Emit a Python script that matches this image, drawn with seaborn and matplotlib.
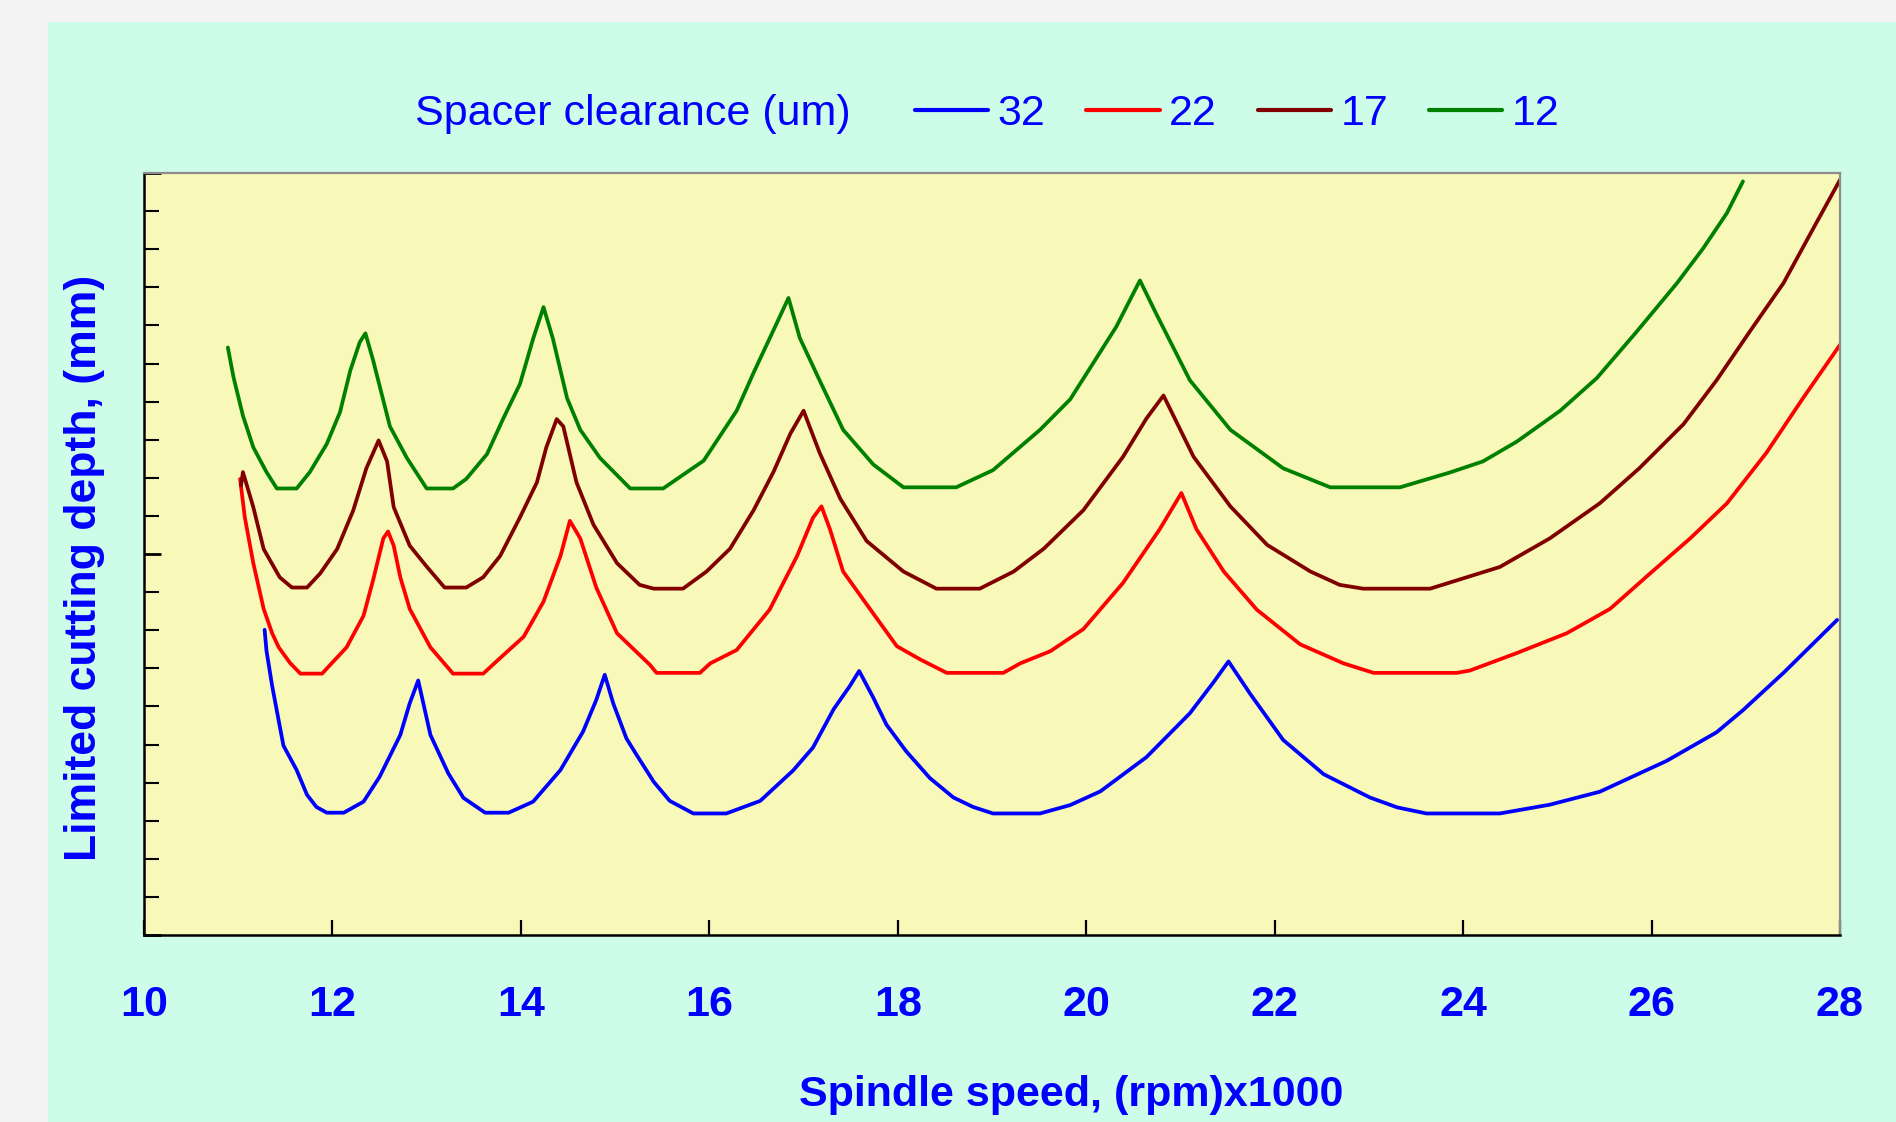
import numpy as np
import pandas as pd
import matplotlib
matplotlib.use('Agg')
import matplotlib.pyplot as plt
from matplotlib.lines import Line2D
from matplotlib.patches import Rectangle
from matplotlib.ticker import MultipleLocator
import seaborn as sns

# spacer clearance 32 um
x_32 = [11.28, 11.30, 11.36, 11.43, 11.48, 11.62, 11.73, 11.83, 11.94, 12.12,
        12.33, 12.50, 12.72, 12.82, 12.91, 13.04, 13.23, 13.39, 13.62, 13.87,
        14.13, 14.42, 14.66, 14.80, 14.89, 14.98, 15.12, 15.23, 15.41, 15.58,
        15.83, 16.18, 16.54, 16.89, 17.10, 17.32, 17.49, 17.59, 17.74, 17.88,
        18.09, 18.34, 18.59, 18.80, 19.01, 19.51, 19.83, 20.15, 20.64, 21.10,
        21.35, 21.51, 21.74, 22.09, 22.52, 23.01, 23.30, 23.61, 24.39, 24.92,
        25.45, 26.16, 26.69, 26.97, 27.40, 27.97]
y_32 = [0.801, 0.746, 0.654, 0.562, 0.497, 0.433, 0.368, 0.336, 0.321, 0.321,
        0.350, 0.415, 0.525, 0.608, 0.668, 0.525, 0.424, 0.360, 0.321, 0.321,
        0.350, 0.433, 0.534, 0.617, 0.683, 0.608, 0.516, 0.472, 0.402, 0.352,
        0.319, 0.319, 0.352, 0.432, 0.492, 0.593, 0.653, 0.693, 0.623, 0.552,
        0.482, 0.412, 0.361, 0.336, 0.319, 0.319, 0.341, 0.377, 0.467, 0.582,
        0.663, 0.718, 0.633, 0.512, 0.422, 0.361, 0.335, 0.319, 0.319, 0.342,
        0.376, 0.457, 0.532, 0.590, 0.688, 0.827]

# spacer clearance 22 um
x_22 = [11.02, 11.07, 11.16, 11.27, 11.36, 11.43, 11.55, 11.66, 11.89, 12.01,
        12.15, 12.33, 12.43, 12.54, 12.59, 12.65, 12.72, 12.82, 13.04, 13.28,
        13.60, 13.78, 14.03, 14.24, 14.42, 14.52, 14.63, 14.80, 15.02, 15.37,
        15.44, 15.90, 16.01, 16.29, 16.64, 16.93, 17.10, 17.19, 17.28, 17.42,
        17.71, 17.99, 18.24, 18.52, 19.12, 19.30, 19.62, 19.97, 20.39, 20.78,
        21.01, 21.17, 21.46, 21.81, 22.27, 22.73, 23.05, 23.93, 24.07, 24.57,
        25.10, 25.56, 25.98, 26.41, 26.80, 27.22, 27.61, 28.00]
y_22 = [1.197, 1.096, 0.976, 0.856, 0.792, 0.755, 0.714, 0.686, 0.686, 0.718,
        0.755, 0.838, 0.930, 1.041, 1.059, 1.022, 0.939, 0.856, 0.755, 0.686,
        0.686, 0.727, 0.783, 0.875, 0.995, 1.087, 1.041, 0.912, 0.792, 0.709,
        0.688, 0.688, 0.713, 0.748, 0.854, 0.994, 1.095, 1.125, 1.065, 0.954,
        0.854, 0.758, 0.723, 0.688, 0.688, 0.713, 0.745, 0.803, 0.924, 1.065,
        1.160, 1.065, 0.954, 0.854, 0.763, 0.713, 0.688, 0.688, 0.694, 0.740,
        0.792, 0.856, 0.948, 1.041, 1.133, 1.266, 1.410, 1.549]

# spacer clearance 17 um
x_17 = [11.03, 11.05, 11.16, 11.27, 11.44, 11.57, 11.73, 11.87, 12.05, 12.22,
        12.36, 12.49, 12.58, 12.65, 12.82, 13.00, 13.19, 13.42, 13.60, 13.78,
        13.99, 14.17, 14.27, 14.38, 14.45, 14.59, 14.77, 15.02, 15.26, 15.41,
        15.72, 15.97, 16.22, 16.47, 16.68, 16.86, 17.00, 17.17, 17.39, 17.67,
        18.06, 18.41, 18.87, 19.23, 19.55, 19.97, 20.39, 20.64, 20.82, 21.14,
        21.53, 21.92, 22.38, 22.69, 22.94, 23.65, 24.39, 24.92, 25.45, 25.87,
        26.34, 26.69, 27.04, 27.40, 27.68, 28.00]
y_17 = [1.180, 1.215, 1.123, 1.013, 0.939, 0.912, 0.912, 0.949, 1.013, 1.114,
        1.225, 1.298, 1.243, 1.123, 1.022, 0.967, 0.912, 0.912, 0.939, 0.995,
        1.096, 1.188, 1.280, 1.354, 1.335, 1.188, 1.077, 0.976, 0.919, 0.909,
        0.909, 0.954, 1.014, 1.115, 1.215, 1.316, 1.376, 1.266, 1.145, 1.034,
        0.954, 0.909, 0.909, 0.954, 1.014, 1.115, 1.255, 1.356, 1.416, 1.255,
        1.125, 1.024, 0.954, 0.919, 0.909, 0.909, 0.966, 1.041, 1.133, 1.225,
        1.341, 1.456, 1.583, 1.711, 1.838, 1.982]

# spacer clearance 12 um
x_12 = [10.89, 10.95, 11.05, 11.16, 11.30, 11.41, 11.62, 11.76, 11.94, 12.08,
        12.19, 12.29, 12.35, 12.43, 12.61, 12.79, 13.00, 13.28, 13.42, 13.64,
        13.81, 13.99, 14.13, 14.24, 14.34, 14.49, 14.63, 14.84, 15.16, 15.51,
        15.94, 16.29, 16.47, 16.68, 16.84, 16.96, 17.17, 17.42, 17.74, 18.06,
        18.62, 19.01, 19.51, 19.83, 20.01, 20.32, 20.57, 20.75, 21.10, 21.53,
        22.09, 22.59, 23.33, 23.86, 24.21, 24.57, 25.03, 25.42, 25.84, 26.27,
        26.55, 26.80, 26.97]
y_12 = [1.542, 1.464, 1.363, 1.280, 1.215, 1.172, 1.172, 1.215, 1.289, 1.372,
        1.482, 1.556, 1.579, 1.510, 1.335, 1.252, 1.172, 1.172, 1.197, 1.262,
        1.354, 1.446, 1.565, 1.648, 1.565, 1.409, 1.326, 1.252, 1.172, 1.172,
        1.245, 1.376, 1.476, 1.587, 1.672, 1.567, 1.456, 1.326, 1.235, 1.175,
        1.175, 1.220, 1.326, 1.406, 1.476, 1.597, 1.718, 1.627, 1.456, 1.326,
        1.225, 1.175, 1.175, 1.214, 1.243, 1.295, 1.376, 1.462, 1.583, 1.711,
        1.803, 1.895, 1.978]

clearances = ['32', '22', '17', '12']
x_ticks = [10, 12, 14, 16, 18, 20, 22, 24, 26, 28]

series = {'32': (x_32, y_32), '22': (x_22, y_22), '17': (x_17, y_17), '12': (x_12, y_12)}
frames = []
for c in clearances:
    xs, ys = series[c]
    frames.append(pd.DataFrame({'speed': xs, 'depth': ys, 'clearance': c}))
df = pd.concat(frames, ignore_index=True)

palette = {'32': '#0000FF', '22': '#FF0000', '17': '#800000', '12': '#008000'}
text_blue = '#0000FF'

sns.set_style('white')
plt.rcParams['font.family'] = ['Liberation Sans', 'DejaVu Sans']

fig = plt.figure(figsize=(18.96, 11.22), dpi=100)
fig.patch.set_facecolor('#F4F4F4')
# mint panel behind everything
fig.patches.append(Rectangle((48 / 1896, 0), 1 - 48 / 1896, 1 - 22 / 1122,
                             transform=fig.transFigure, facecolor='#CDFCE8',
                             edgecolor='none', zorder=-10))

ax = fig.add_axes([144 / 1896, 1 - 935 / 1122, 1696 / 1896, 762 / 1122])
ax.set_zorder(1)
ax.set_facecolor('#F8F8B8')

sns.lineplot(data=df, x='speed', y='depth', hue='clearance', palette=palette,
             estimator=None, sort=False, linewidth=2.7, legend=False, ax=ax)

ax.set_xlim(10, 28)
ax.set_ylim(0, 2)
ax.set_xticks(x_ticks)
ax.set_xticklabels([str(t) for t in x_ticks])
ax.yaxis.set_major_locator(MultipleLocator(1.0))
ax.yaxis.set_minor_locator(MultipleLocator(0.1))
ax.set_yticklabels([])
ax.tick_params(bottom=True, left=True, top=False, right=False)
ax.tick_params(axis='y', which='minor', left=True)
ax.tick_params(axis='x', direction='in', length=11, width=1.6, color='black',
               pad=36, labelsize=31, labelcolor=text_blue)
ax.tick_params(axis='y', which='major', direction='in', length=12, width=2.0, color='black')
ax.tick_params(axis='y', which='minor', direction='in', length=11, width=1.5, color='black')
for lab in ax.get_xticklabels():
    lab.set_fontweight('bold')
ax.set_xlabel('')
ax.set_ylabel('')

for side in ['left', 'bottom']:
    ax.spines[side].set_color('black')
    ax.spines[side].set_linewidth(1.8)
for side in ['top', 'right']:
    ax.spines[side].set_color('#8C8C8C')
    ax.spines[side].set_linewidth(1.6)

fig.text(1071 / 1896, 1 - 1095 / 1122, 'Spindle speed, (rpm)x1000', ha='center', va='center',
         fontsize=31, fontweight='bold', color=text_blue)
fig.text(85 / 1896, 1 - 568 / 1122, 'Limited cutting depth, (mm)', ha='center', va='center',
         rotation=90, fontsize=32, fontweight='bold', color=text_blue)

fig.text(415 / 1896, 1 - 114 / 1122, 'Spacer clearance (um)', ha='left', va='center',
         fontsize=31, color=text_blue)
handles = [Line2D([0], [0], color=palette[c], linewidth=3.0) for c in clearances]
leg = fig.legend(handles, clearances, loc='center left', bbox_to_anchor=(915 / 1896, 1 - 114 / 1122),
                 ncol=4, frameon=False, fontsize=31, borderpad=0, borderaxespad=0,
                 handlelength=1.7, handletextpad=0.22, columnspacing=0.95)
for t in leg.get_texts():
    t.set_color(text_blue)

fig.savefig('out.png', dpi=100, facecolor=fig.get_facecolor())
